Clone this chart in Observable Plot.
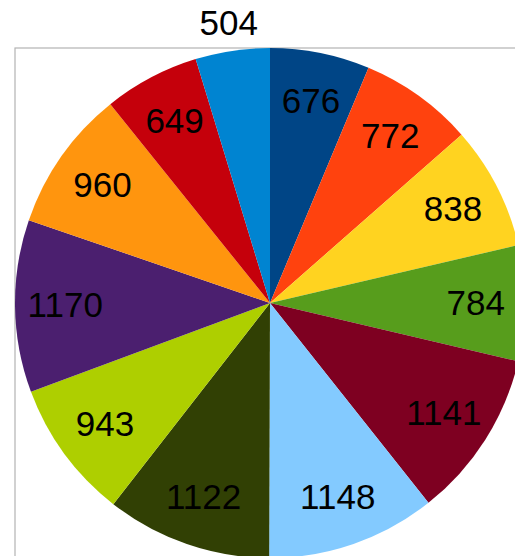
<!DOCTYPE html>
<html>
<head>
<meta charset="utf-8">
<script src="https://cdn.jsdelivr.net/npm/d3@7"></script>
<script src="https://cdn.jsdelivr.net/npm/@observablehq/plot@0.6"></script>
<style>
  html, body { margin: 0; padding: 0; background: #fff; overflow: hidden; }
  svg { display: block; }
</style>
</head>
<body>
<div id="chart"></div>
<script>
// Data (clockwise from 12 o'clock)
const values = [676, 772, 838, 784, 1141, 1148, 1122, 943, 1170, 960, 649, 504];
const colors = ["#004586", "#ff420e", "#ffd320", "#579d1c", "#7e0021", "#83caff",
                "#314004", "#aecf00", "#4b1f6f", "#ff950e", "#c5000b", "#0084d1"];
const labelInside = [true, true, true, true, true, true, true, true, true, true, true, false];

const arcs = d3.pie().sort(null).value(d => d)(values);

const labels = arcs.map((a, i) => {
  const mid = (a.startAngle + a.endAngle) / 2;
  const R = labelInside[i] ? 0.805 : 1.11;
  return {x: R * Math.sin(mid), y: R * Math.cos(mid), text: String(values[i])};
});

const wall = [{x1: -1, x2: 1, y1: -1, y2: 1}];

function slices(index, scales) {
  const cx = scales.x(0), cy = scales.y(0);
  const r = scales.x(1) - scales.x(0);
  const arc = d3.arc().innerRadius(0).outerRadius(r);
  const g = d3.create("svg:g").attr("transform", `translate(${cx},${cy})`);
  g.selectAll("path").data(arcs).join("path")
    .attr("d", arc)
    .attr("fill", (d, i) => colors[i]);
  return g.node();
}

const W = 515, H = 556, CX = 270, CY = 303, RAD = 255;

const chart = Plot.plot({
  width: W,
  height: H,
  margin: 0,
  x: {domain: [-CX / RAD, (W - CX) / RAD], range: [0, W], axis: null},
  y: {domain: [-(H - CY) / RAD, CY / RAD], range: [H, 0], axis: null},
  style: {fontFamily: "'Liberation Sans', Arial, sans-serif", background: "#fff"},
  marks: [
    Plot.rect(wall, {x1: "x1", x2: "x2", y1: "y1", y2: "y2", fill: "none", stroke: "#b3b3b3", strokeWidth: 1.2}),
    slices,
    Plot.text(labels, {x: "x", y: "y", text: "text", fontSize: 35, fill: "#000",
      textAnchor: "middle", lineAnchor: "middle", fontFamily: "'Liberation Sans', Arial, sans-serif"})
  ]
});
document.getElementById("chart").appendChild(chart);
</script>
</body>
</html>
